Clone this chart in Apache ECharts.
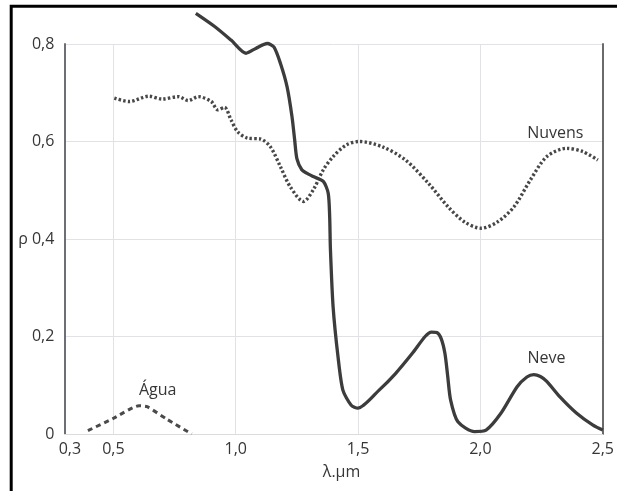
<!DOCTYPE html>
<html>
<head>
<meta charset="utf-8">
<script src="https://cdn.jsdelivr.net/npm/echarts@6/dist/echarts.min.js"></script>
<style>
html,body{margin:0;padding:0;background:#fff;}
#chart{width:617px;height:491px;}
</style>
</head>
<body>
<div id="chart"></div>
<script>
// Tick values
var xTicks = [0.3, 0.5, 1.0, 1.5, 2.0, 2.5];
var yTicks = [0, 0.2, 0.4, 0.6, 0.8];

// Series: [wavelength (µm), reflectance]
var neve = [[0.837,0.863],[0.914,0.836],[0.981,0.808],[1.042,0.781],[1.082,0.791],[1.129,0.801],[1.156,0.794],[1.183,0.760],[1.210,0.712],[1.230,0.651],[1.241,0.603],[1.250,0.565],[1.270,0.542],[1.290,0.535],[1.317,0.528],[1.358,0.518],[1.378,0.494],[1.384,0.446],[1.387,0.380],[1.398,0.261],[1.418,0.159],[1.438,0.090],[1.472,0.059],[1.499,0.053],[1.586,0.090],[1.653,0.124],[1.721,0.165],[1.774,0.200],[1.800,0.209],[1.822,0.208],[1.840,0.195],[1.855,0.165],[1.866,0.120],[1.878,0.070],[1.908,0.025],[1.976,0.005],[2.023,0.008],[2.083,0.042],[2.150,0.097],[2.190,0.117],[2.218,0.122],[2.245,0.118],[2.271,0.108],[2.325,0.076],[2.392,0.043],[2.460,0.018],[2.500,0.008]];

var nuvens = [[0.504,0.689],[0.565,0.682],[0.645,0.693],[0.699,0.687],[0.766,0.692],[0.806,0.684],[0.847,0.692],[0.900,0.682],[0.927,0.665],[0.954,0.670],[0.981,0.644],[1.008,0.620],[1.048,0.607],[1.102,0.605],[1.142,0.589],[1.183,0.548],[1.223,0.507],[1.277,0.477],[1.317,0.501],[1.358,0.542],[1.398,0.569],[1.452,0.593],[1.505,0.600],[1.600,0.589],[1.694,0.562],[1.788,0.514],[1.868,0.466],[1.935,0.435],[2.003,0.422],[2.070,0.435],[2.137,0.466],[2.204,0.521],[2.271,0.569],[2.352,0.586],[2.419,0.579],[2.480,0.562]];

var agua = [[0.396,0.007],[0.500,0.032],[0.605,0.058],[0.638,0.056],[0.720,0.030],[0.820,0.000]];

// Series name labels and their anchor positions in data space
var labelNames = ['Neve', 'Nuvens', 'Água'];
var labelAnchors = [[2.270, 0.156], [2.306, 0.617], [0.681, 0.090]];

var FONT = 'Open Sans';
var TXT = '#363636';
var FS = 16;

function nameLabel(i) {
  return {
    symbol: 'circle', symbolSize: 0,
    label: { show: true, position: 'inside', formatter: labelNames[i], color: TXT, fontFamily: FONT, fontSize: FS },
    data: [{ coord: labelAnchors[i] }]
  };
}

var chart = echarts.init(document.getElementById('chart'), null, { renderer: 'canvas' });
chart.setOption({
  animation: false,
  backgroundColor: '#fff',
  grid: { left: 64.4, right: 7, top: 44, bottom: 57, containLabel: false },
  xAxis: {
    type: 'value', min: 0.3, max: 2.5,
    name: 'λ.μm', nameLocation: 'middle', nameGap: 30,
    nameTextStyle: { color: TXT, fontFamily: FONT, fontSize: FS, padding: [0, 0, 0, 16] },
    axisLine: { show: true, lineStyle: { color: '#dcdcdc', width: 1 } },
    axisTick: { show: false, customValues: xTicks },
    axisLabel: {
      customValues: xTicks, color: TXT, fontFamily: FONT, fontSize: FS, margin: 7,
      formatter: function (v) {
        var s = v.toFixed(1).replace('.', ',');
        if (Math.abs(v - 0.3) < 1e-9) return '{a|' + s + '}';
        return s;
      },
      rich: { a: { color: TXT, fontFamily: FONT, fontSize: FS, padding: [0, 0, 0, 11] } }
    },
    splitLine: { show: true, lineStyle: { color: '#e2e2e6', width: 1 } }
  },
  yAxis: [{
    type: 'value', min: 0, max: 0.8, interval: 0.2,
    axisLine: { show: true, lineStyle: { color: '#6e6e76', width: 2 } },
    axisTick: { show: false },
    axisLabel: {
      color: TXT, fontFamily: FONT, fontSize: FS, margin: 10,
      formatter: function (v) {
        if (Math.abs(v) < 1e-9) return '0';
        var s = v.toFixed(1).replace('.', ',');
        if (Math.abs(v - 0.4) < 1e-9) return 'ρ ' + s;
        return s;
      }
    },
    splitLine: { show: true, lineStyle: { color: '#e2e2e6', width: 1 } }
  }, {
    type: 'value', min: 0, max: 0.8, position: 'right',
    axisLine: { show: true, onZero: false, lineStyle: { color: '#6a6a6a', width: 2 } },
    axisTick: { show: false }, axisLabel: { show: false }, splitLine: { show: false }
  }],
  graphic: [{
    type: 'rect', silent: true, z: 100,
    shape: { x: 11.2, y: 6.2, width: 800, height: 800 },
    style: { fill: 'none', stroke: '#000', lineWidth: 3 }
  }],
  series: [{
    name: 'Nuvens', type: 'line', data: nuvens, showSymbol: false, smooth: 0.3, clip: false,
    lineStyle: { color: '#474747', width: 3.4, type: [2.4, 2.2], cap: 'butt' },
    markPoint: nameLabel(1)
  }, {
    name: 'Neve', type: 'line', data: neve, showSymbol: false, smooth: 0.25, clip: false,
    lineStyle: { color: '#3c3c3c', width: 3.3 },
    markPoint: nameLabel(0)
  }, {
    name: 'Água', type: 'line', data: agua, showSymbol: false, smooth: 0.2, clip: false,
    lineStyle: { color: '#4a4a4a', width: 3, type: [5, 4] },
    markPoint: nameLabel(2)
  }]
});
</script>
</body>
</html>
